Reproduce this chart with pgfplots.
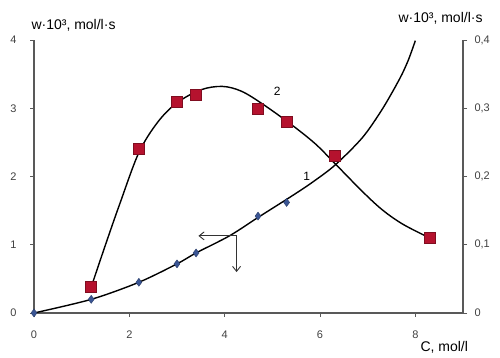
\documentclass[border=0pt]{standalone}
\usepackage{fontspec}
\setmainfont{Liberation Sans}
\usepackage{pgfplots}
\pgfplotsset{compat=1.18}
\usetikzlibrary{arrows.meta}
\definecolor{sqred}{HTML}{B5122E}
\definecolor{dmblue}{HTML}{3A5594}
\definecolor{axgray}{HTML}{595959}

\begin{document}
\begin{tikzpicture}
\pgfplotsset{
  base/.style={
    scale only axis, width=429pt, height=273pt,
    xmin=0, xmax=9,
    axis line style={axgray, line width=1.2pt},
    tick style={axgray, line width=0.8pt},
    major tick length=4pt, tick align=outside,
    tick label style={font=\fontsize{11}{13}\selectfont, text=black!75},
    /pgf/number format/assume math mode=true,
    /pgf/number format/use comma,
  },
}
\begin{axis}[base,
  ymin=0, ymax=4,
  axis x line*=bottom, axis y line*=left,
  xtick={0,2,4,6,8}, ytick={0,1,2,3,4},
  xticklabel style={yshift=-10pt},
  yticklabel style={xshift=-10pt},
]
  % curve 2
  \addplot[black, line width=1.4pt, smooth, tension=0.55] coordinates {
    (1.2,0.38) (1.5,1.0) (1.8,1.6) (2.2,2.35) (2.6,2.8) (3,3.08) (3.5,3.27)
    (3.95,3.32) (4.35,3.25) (4.8,3.06) (5.4,2.76) (5.9,2.48) (6.3,2.2)
    (6.89,1.78) (7.31,1.51) (7.74,1.3) (8.3,1.1)};
  % curve 1
  \addplot[black, line width=1.4pt, smooth, tension=0.5] coordinates {
    (0,0) (1.2,0.2) (2.2,0.45) (3,0.72) (3.4,0.88) (4.1,1.13) (4.7,1.4)
    (5.4,1.71) (5.85,1.92) (6.32,2.17) (6.89,2.57) (7.31,2.99) (7.67,3.43) (7.85,3.7) (8.0,3.99)};
  % experimental points
  \addplot[only marks, mark=square*, mark size=5.5pt, mark options={fill=sqred, draw=sqred!70!black}] coordinates {
    (1.2,0.38) (2.2,2.4) (3,3.1) (3.4,3.2) (4.7,3.0) (5.3,2.8) (6.3,2.3) (8.3,1.1)};
  \addplot[only marks, mark=diamond*, mark size=4pt, mark options={fill=dmblue, draw=dmblue!70!black}] coordinates {
    (0,0) (1.2,0.2) (2.2,0.45) (3,0.72) (3.4,0.88) (4.7,1.42) (5.3,1.62)};
  % arrows
  \draw[-{Straight Barb[length=5pt,width=8pt]}, black!80, line width=0.9pt] (axis cs:4.25,1.13) -- (axis cs:3.45,1.13);
  \draw[-{Straight Barb[length=5pt,width=8pt]}, black!80, line width=0.9pt] (axis cs:4.25,1.13) -- (axis cs:4.25,0.6);
  \node[font=\fontsize{12}{14}\selectfont] at (axis cs:5.72,2.0) {1};
  \node[font=\fontsize{12}{14}\selectfont] at (axis cs:5.1,3.25) {2};
\end{axis}
\begin{axis}[base,
  ymin=0, ymax=0.4,
  axis x line=none, axis y line*=right,
  ytick={0,0.1,0.2,0.3,0.4},
  yticklabel style={xshift=4pt, /pgf/number format/fixed, /pgf/number format/precision=1},
]
\end{axis}
\node[anchor=west, font=\fontsize{14}{16}\selectfont] at (-6pt,288pt) {w·10³, mol/l·s};
\node[anchor=west, font=\fontsize{14}{16}\selectfont] at (361pt,295pt) {w·10³, mol/l·s};
\node[anchor=west, font=\fontsize{14}{16}\selectfont] at (383pt,-34pt) {C, mol/l};
\pgfresetboundingbox
\path[use as bounding box] (-34pt,-45pt) rectangle (466pt,313pt);
\end{tikzpicture}
\end{document}
